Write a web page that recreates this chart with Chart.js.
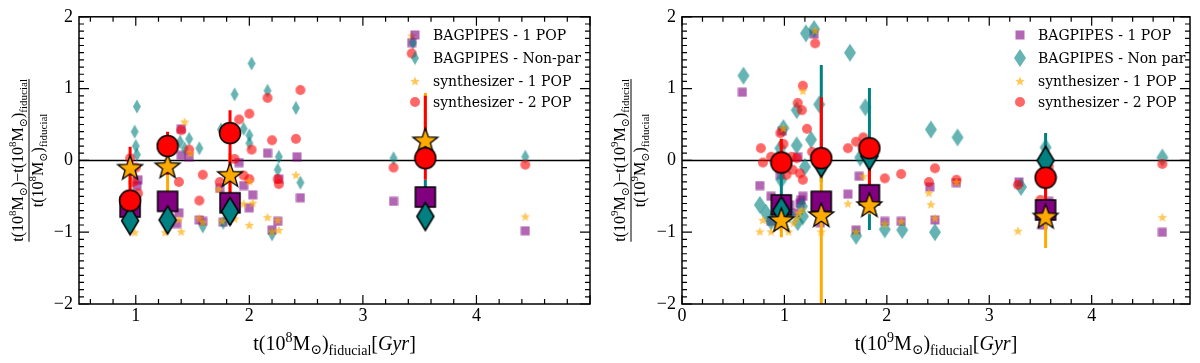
<!DOCTYPE html>
<html><head><meta charset="utf-8">
<script src="https://cdn.jsdelivr.net/npm/chart.js@4/dist/chart.umd.min.js"></script>
<style>html,body{margin:0;padding:0;background:#fff;}#wrap{position:relative;width:1200px;height:363px;overflow:hidden}canvas{position:absolute;top:0}</style>
</head><body><div id="wrap"><canvas id="c1" width="600" height="363" style="left:0"></canvas><canvas id="c2" width="600" height="363" style="left:600px"></canvas></div>
<script>
// ---------------- DATA ----------------
const legendLabelsL = ['BAGPIPES - 1 POP','BAGPIPES - Non-par','synthesizer - 1 POP','synthesizer - 2 POP'];
const legendLabelsR = ['BAGPIPES - 1 POP','BAGPIPES - Non par','synthesizer - 1 POP','synthesizer - 2 POP'];
const xTicksL = [1,2,3,4];
const xTicksR = [0,1,2,3,4];
const yTicks = [-2,-1,0,1,2];

// Left panel (10^8 Msun) scatter points [x, y]
const L_bp1 = [[1.02,-0.27],[1.01,-0.35],[1.40,0.44],[1.40,0.07],[1.47,0.05],[1.38,-0.73],[1.36,-0.88],[1.56,-0.83],[1.59,-0.85],[1.74,-0.39],[1.77,-0.86],[1.91,-0.03],[1.95,-0.35],[2.03,-0.48],[2.00,-0.66],[2.16,0.10],[2.42,0.05],[2.26,-0.26],[2.45,-0.52],[2.20,-0.97],[2.25,-0.85],[3.27,-0.57],[4.43,-0.98],[3.43,1.64]];
const L_bpnp = [[1.01,0.75],[0.99,0.40],[1.00,0.20],[1.01,0.08],[1.39,0.26],[1.43,0.17],[1.47,0.30],[1.56,0.17],[1.75,0.43],[1.87,0.92],[1.95,0.44],[2.00,0.35],[2.00,0.24],[2.02,1.35],[2.16,0.97],[2.26,0.05],[2.25,-0.13],[2.41,0.73],[2.45,-0.31],[1.59,-0.92],[1.77,-0.87],[2.20,-1.03],[3.27,0.03],[4.43,0.05],[3.44,1.64]];
const L_sy1 = [[0.99,-1.0],[1.26,-1.0],[1.43,0.54],[1.48,0.10],[1.38,-0.82],[1.40,-0.99],[1.56,-0.80],[1.59,-0.86],[1.73,-0.40],[1.76,-0.84],[1.87,-0.81],[1.95,-0.60],[2.03,-0.59],[2.00,-0.90],[2.00,-0.29],[2.16,-0.79],[2.25,-0.83],[2.26,-0.97],[2.20,-0.99],[2.41,-0.20],[4.43,-0.78],[3.43,1.74]];
const L_sy2 = [[0.95,0.03],[1.00,-0.10],[0.98,-0.30],[1.02,-0.46],[1.40,0.42],[1.47,0.15],[1.38,-0.30],[1.59,-0.20],[1.56,-0.56],[1.74,-0.30],[1.87,0.02],[1.91,0.57],[2.00,0.65],[2.02,0.15],[1.95,-0.21],[2.00,-0.26],[2.16,0.87],[2.20,0.28],[2.45,0.98],[2.41,0.30],[2.25,-0.26],[2.26,-0.33],[3.27,-0.10],[4.43,-0.06],[3.43,1.49]];
// Left panel medians
const L_medX = [0.95,1.28,1.83,3.55];
const L_med_bp1 = [-0.65,-0.57,-0.59,-0.51];
const L_med_bpnp = [-0.84,-0.83,-0.71,-0.78];
const L_med_sy1 = [-0.10,-0.08,-0.20,0.28];
const L_med_sy2 = [-0.56,0.20,0.38,0.03];
const L_err_bpnp = [[-1.0,-0.6],[-1.0,-0.6],[-0.9,-0.5],[-0.95,-0.27]];
const L_err_sy1 = [[-0.4,0.05],[-0.75,0.10],[-0.5,0.10],[0.0,0.94]];
const L_err_sy2 = [[-0.9,0.19],[-0.2,0.40],[-0.75,0.70],[-0.27,0.90]];

// Right panel (10^9 Msun) scatter points [x, y]
const R_bp1 = [[0.59,0.95],[1.29,1.76],[0.98,0.41],[0.76,-0.35],[0.87,-0.50],[1.13,0.05],[0.96,-0.20],[1.18,-0.50],[1.15,-0.60],[1.10,-0.73],[0.87,-0.85],[1.35,-0.87],[1.73,-0.22],[1.62,-0.47],[1.70,-0.97],[1.98,-0.85],[2.14,-0.85],[2.42,-0.37],[2.47,-0.83],[2.68,-0.31],[3.29,-0.30],[3.58,-0.57],[3.52,-0.90],[4.69,-1.0],[1.16,-0.55],[1.05,-0.62]];
const R_bpnp = [[0.60,1.18],[1.21,1.77],[1.29,1.83],[1.64,1.50],[1.34,0.78],[1.12,0.70],[0.99,0.45],[1.12,0.21],[1.26,0.29],[0.96,0.17],[0.76,-0.62],[0.82,-0.73],[0.87,-0.85],[0.97,-0.27],[1.17,-0.64],[1.18,-0.78],[1.20,-0.09],[1.79,0.74],[1.74,0.04],[2.43,0.43],[2.69,0.32],[1.70,-1.05],[1.98,-0.96],[2.15,-0.97],[2.47,-1.0],[3.31,-0.37],[3.55,0.18],[4.69,0.04],[1.05,-0.75],[1.13,-0.86]];
const R_sy1 = [[1.30,1.81],[1.18,0.97],[0.99,0.45],[0.76,-0.99],[0.87,-0.99],[1.04,-0.99],[0.79,-0.83],[1.14,-0.73],[1.17,-0.69],[1.09,-0.87],[1.36,-0.99],[1.62,-0.60],[1.77,-0.22],[1.70,-0.99],[1.98,-0.88],[2.14,-0.85],[2.41,-0.45],[2.43,-0.61],[2.47,-0.80],[2.68,-0.30],[3.28,-0.98],[4.69,-0.79],[1.12,-0.80],[0.93,-0.92]];
const R_sy2 = [[1.30,1.63],[1.18,1.04],[1.13,0.80],[1.17,0.70],[1.22,0.44],[0.77,0.17],[0.96,0.38],[0.99,0.23],[0.79,-0.03],[0.87,0.05],[1.02,-0.20],[1.08,-0.13],[1.15,-0.18],[1.18,-0.27],[1.27,0.12],[1.07,0.05],[1.62,0.17],[1.70,0.26],[1.77,0.32],[1.98,-0.25],[2.14,-0.19],[2.41,-0.30],[2.47,-0.11],[2.68,-0.27],[3.28,-0.34],[3.58,-0.09],[3.50,-0.55],[4.69,-0.05],[1.12,0.03]];
// Right panel medians
const R_medX = [0.97,1.36,1.83,3.55];
const R_med_bp1 = [-0.62,-0.57,-0.48,-0.69];
const R_med_bpnp = [-0.70,-0.04,0.06,0.0];
const R_med_sy1 = [-0.83,-0.76,-0.62,-0.78];
const R_med_sy2 = [-0.03,0.03,0.17,-0.24];
const R_err_bpnp = [[-0.85,-0.10],[-0.30,1.33],[-0.97,1.01],[-0.50,0.38]];
const R_err_sy1 = [[-1.07,-0.60],[-2.20,-0.15],[-0.75,-0.50],[-1.22,-0.70]];
const R_err_sy2 = [[-0.10,0.30],[-0.15,0.88],[-0.45,0.17],[-0.55,-0.24]];

// ---------------- MARKERS ----------------
function mk(w,h,fn){const c=document.createElement('canvas');c.width=w;c.height=h;const x=c.getContext('2d');fn(x,w,h);return c;}
function starPath(ctx,cx,cy,R,r){ctx.beginPath();for(let i=0;i<10;i++){const a=-Math.PI/2+i*Math.PI/5;const rr=i%2?r:R;ctx.lineTo(cx+rr*Math.cos(a),cy+rr*Math.sin(a));}ctx.closePath();}
function diamondPath(ctx,cx,cy,hw,hh){ctx.beginPath();ctx.moveTo(cx,cy-hh);ctx.lineTo(cx+hw,cy);ctx.lineTo(cx,cy+hh);ctx.lineTo(cx-hw,cy);ctx.closePath();}
const C_PUR='rgba(128,0,128,0.6)', C_TEAL='rgba(0,128,128,0.6)', C_OR='rgba(255,170,0,0.65)', C_RED='rgba(255,0,0,0.6)';
const smSquare = mk(10,10,(c)=>{c.fillStyle=C_PUR;c.fillRect(0.5,0.5,9,9);});
const smDiamondL = mk(10,15,(c,w,h)=>{c.fillStyle=C_TEAL;diamondPath(c,w/2,h/2,4,7);c.fill();});
const smDiamondR = mk(14,20,(c,w,h)=>{c.fillStyle=C_TEAL;diamondPath(c,w/2,h/2,6,9);c.fill();});
const smStar = mk(12,12,(c,w,h)=>{c.fillStyle=C_OR;starPath(c,w/2,h/2+0.5,5,2.2);c.fill();});
const smCircle = mk(12,12,(c,w,h)=>{c.fillStyle=C_RED;c.beginPath();c.arc(w/2,h/2,5,0,Math.PI*2);c.fill();});
const bgSquare = mk(24,24,(c)=>{c.fillStyle='#800080';c.fillRect(2,2,20,20);c.lineWidth=1.5;c.strokeStyle='#000';c.strokeRect(2,2,20,20);});
const bgDiamond = mk(22,32,(c,w,h)=>{c.fillStyle='#008080';diamondPath(c,w/2,h/2,8.5,14);c.fill();c.lineWidth=1.5;c.strokeStyle='#000';c.stroke();});
const bgStar = mk(30,30,(c,w,h)=>{c.fillStyle='#ffaa00';starPath(c,w/2,h/2+1,13,5.3);c.fill();c.lineWidth=1.3;c.strokeStyle='#000';c.stroke();});
const bgCircle = mk(24,24,(c,w,h)=>{c.fillStyle='#ff0000';c.beginPath();c.arc(w/2,h/2,10.5,0,Math.PI*2);c.fill();c.lineWidth=1.5;c.strokeStyle='#000';c.stroke();});

// ---------------- HELPERS ----------------
const pts = a => a.map(p=>({x:p[0],y:p[1]}));
const medPts = (xs,ys) => xs.map((x,i)=>({x:x,y:ys[i]}));
function scatterDS(data, img){return {type:'scatter',data:data,pointStyle:img,pointRadius:6,pointHoverRadius:6,showLine:false};}
function errDS(xs, errs, color){return errs.map((e,i)=>({type:'scatter',data:[{x:xs[i],y:e[0]},{x:xs[i],y:e[1]}],showLine:true,borderColor:color,borderWidth:3,pointRadius:0,pointHoverRadius:0,fill:false}));}

const SERIF='"Liberation Serif", "DejaVu Serif", serif';
function drawRich(ctx, segs, x, y, align){
  let w=0;
  segs.forEach(s=>{ctx.font=(s.it?'italic ':'')+s.s+'px '+SERIF;s.w=ctx.measureText(s.t).width;w+=s.w;});
  let cx = align==='center'? x-w/2 : x;
  segs.forEach(s=>{ctx.font=(s.it?'italic ':'')+s.s+'px '+SERIF;ctx.fillText(s.t,cx,y+(s.dy||0));cx+=s.w;});
  return w;
}
function tM(sup,main,sub){ // t(10^sup M_sun)
  return [{t:'t(10',s:main},{t:sup,s:sub,dy:-main*0.42},{t:'M',s:main},{t:'\u2299',s:sub,dy:main*0.22},{t:')',s:main}];
}

function makePlugin(cfg){
  return {id:'deco'+cfg.id, afterDraw(chart){
    const ctx=chart.ctx, a=chart.chartArea, xs=chart.scales.x, ys=chart.scales.y;
    ctx.save();
    ctx.strokeStyle='#000'; ctx.fillStyle='#000';
    ctx.lineWidth=1.5; ctx.strokeRect(a.left,a.top,a.right-a.left,a.bottom-a.top);
    ctx.lineWidth=1.2; ctx.beginPath();
    for(let i=Math.ceil(xs.min*5-1e-6); i<=Math.floor(xs.max*5+1e-6); i++){
      const px=xs.getPixelForValue(i/5); const L = (i%5===0)?9:5;
      ctx.moveTo(px,a.bottom); ctx.lineTo(px,a.bottom-L);
      ctx.moveTo(px,a.top); ctx.lineTo(px,a.top+L);
    }
    for(let i=Math.ceil(ys.min*10-1e-6); i<=Math.floor(ys.max*10+1e-6); i++){
      const py=ys.getPixelForValue(i/10); const L=(i%10===0)?10:5;
      ctx.moveTo(a.left,py); ctx.lineTo(a.left+L,py);
      ctx.moveTo(a.right,py); ctx.lineTo(a.right-L,py);
    }
    ctx.stroke();
    ctx.textBaseline='alphabetic';
    drawRich(ctx, tM(cfg.sup,20,14).concat([{t:'fiducial',s:14,dy:5},{t:'[',s:20},{t:'Gyr',s:20,it:true},{t:']',s:20}]), (a.left+a.right)/2, 350, 'center');
    ctx.save();
    ctx.translate(cfg.fracX, (a.top+a.bottom)/2);
    ctx.rotate(-Math.PI/2);
    const num = tM(cfg.sup,16,11).concat([{t:'\u2212',s:16}]).concat(tM(cfg.sup,16,11)).concat([{t:'fiducial',s:11,dy:4}]);
    const wN = drawRich(ctx, num, 0, -6, 'center');
    drawRich(ctx, tM(cfg.sup,16,11).concat([{t:'fiducial',s:11,dy:4}]), 0, 14, 'center');
    ctx.lineWidth=1; ctx.beginPath(); ctx.moveTo(-wN/2,0); ctx.lineTo(wN/2,0); ctx.stroke();
    ctx.restore();
    const imgs=[smSquare, cfg.legDiamond, smStar, smCircle];
    cfg.labels.forEach((lab,i)=>{
      const y=cfg.legY[i];
      const im=imgs[i];
      ctx.drawImage(im, cfg.legMX-im.width/2, y-im.height/2);
      ctx.font='14px "DejaVu Serif", serif'; ctx.textBaseline='middle'; ctx.fillStyle='#000';
      ctx.fillText(lab,cfg.legTX,y+1);
    });
    ctx.restore();
  }};
}

function buildChart(id, cfg){
  const ds=[];
  ds.push({type:'scatter',data:[{x:cfg.xmin,y:0},{x:cfg.xmax,y:0}],showLine:true,borderColor:'#000',borderWidth:1.5,pointRadius:0});
  ds.push(scatterDS(pts(cfg.bp1), smSquare));
  ds.push(scatterDS(pts(cfg.bpnp), cfg.smDiamond));
  ds.push(scatterDS(pts(cfg.sy2), smCircle));
  ds.push(scatterDS(pts(cfg.sy1), smStar));
  errDS(cfg.medX, cfg.err_bpnp, '#008080').forEach(d=>ds.push(d));
  errDS(cfg.medX, cfg.err_sy1, '#ffaa00').forEach(d=>ds.push(d));
  errDS(cfg.medX, cfg.err_sy2, '#ff0000').forEach(d=>ds.push(d));
  ds.push(scatterDS(medPts(cfg.medX,cfg.med_bp1), bgSquare));
  ds.push(scatterDS(medPts(cfg.medX,cfg.med_bpnp), bgDiamond));
  ds.push(scatterDS(medPts(cfg.medX,cfg.med_sy1), bgStar));
  ds.push(scatterDS(medPts(cfg.medX,cfg.med_sy2), bgCircle));
  const N=ds.length; ds.forEach((d,i)=>{d.order=N-i;});
  const font={family:'"Liberation Serif", serif',size:18};
  return new Chart(document.getElementById(id),{
    type:'scatter',
    data:{datasets:ds},
    options:{
      responsive:false, animation:false, devicePixelRatio:1, events:[],
      layout:{padding:{top:16,right:10,left:0,bottom:0}},
      plugins:{legend:{display:false},tooltip:{enabled:false}},
      scales:{
        x:{type:'linear',min:cfg.xmin,max:cfg.xmax,grid:{display:false,drawTicks:false},border:{display:false},
           ticks:{font:font,color:'#000',padding:1,maxRotation:0,autoSkip:false},
           afterBuildTicks:s=>{s.ticks=cfg.xTicks.map(v=>({value:v}));},
           afterFit:s=>{s.height=59;}},
        y:{type:'linear',min:-2,max:2,grid:{display:false,drawTicks:false},border:{display:false},
           ticks:{font:font,color:'#000',padding:6,callback:v=>String(v).replace('-','\u2212')},
           afterBuildTicks:s=>{s.ticks=yTicks.map(v=>({value:v}));},
           afterFit:s=>{s.width=cfg.yw;}}
      }
    },
    plugins:[makePlugin(cfg)]
  });
}

buildChart('c1',{id:1,xmin:0.5,xmax:5.0,xTicks:xTicksL,yw:79,sup:'8',fracX:29,
  bp1:L_bp1,bpnp:L_bpnp,sy1:L_sy1,sy2:L_sy2,smDiamond:smDiamondL,
  medX:L_medX,med_bp1:L_med_bp1,med_bpnp:L_med_bpnp,med_sy1:L_med_sy1,med_sy2:L_med_sy2,
  err_bpnp:L_err_bpnp,err_sy1:L_err_sy1,err_sy2:L_err_sy2,
  labels:legendLabelsL,legDiamond:smDiamondL,legY:[35,58,81,102],legMX:415,legTX:433});
buildChart('c2',{id:2,xmin:0,xmax:4.96,xTicks:xTicksR,yw:82,sup:'9',fracX:31,
  bp1:R_bp1,bpnp:R_bpnp,sy1:R_sy1,sy2:R_sy2,smDiamond:smDiamondR,
  medX:R_medX,med_bp1:R_med_bp1,med_bpnp:R_med_bpnp,med_sy1:R_med_sy1,med_sy2:R_med_sy2,
  err_bpnp:R_err_bpnp,err_sy1:R_err_sy1,err_sy2:R_err_sy2,
  labels:legendLabelsR,legDiamond:smDiamondR,legY:[35,58,81,102],legMX:420,legTX:438});
</script></body></html>
